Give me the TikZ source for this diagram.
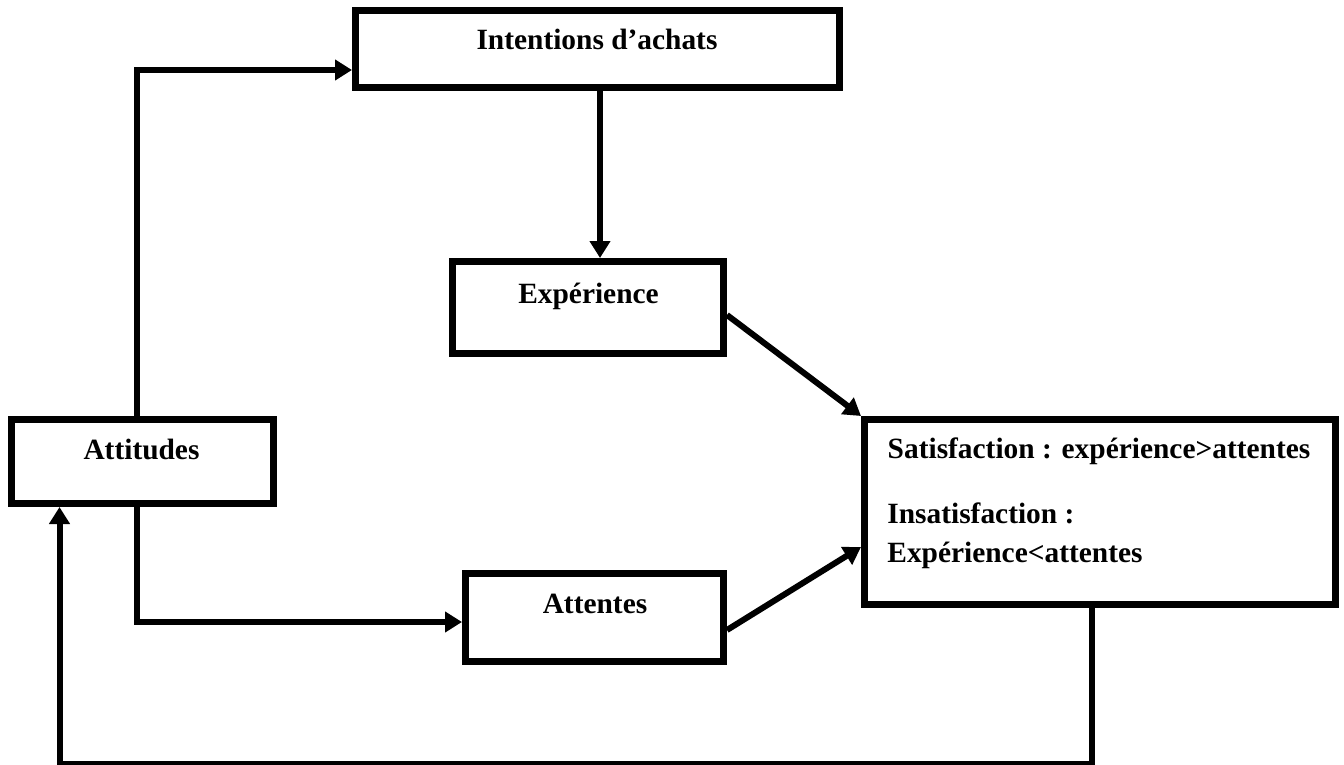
\documentclass[tikz,border=0pt]{standalone}
\usepackage{fontspec}
\setmainfont{Liberation Serif}
\usetikzlibrary{arrows.meta}
\begin{document}
\begin{tikzpicture}[x=0.5pt,y=-0.5pt,
  box/.style={draw=black,line width=3.5pt,fill=white,inner sep=0pt,rectangle},
  lbl/.style={inner sep=0pt,font=\fontsize{14.7pt}{17pt}\selectfont\bfseries},
  conn/.style={line width=3pt,-{Triangle[length=8.5pt,width=10pt]}},
  plain/.style={line width=3pt}]
\useasboundingbox (0,0) rectangle (1344,765);

% boxes
\node[box,minimum width=242pt,minimum height=38.5pt] (intent) at (597.5,49) {};
\node[box,minimum width=135.5pt,minimum height=46pt] (exper) at (588,307.5) {};
\node[box,minimum width=131pt,minimum height=42pt] (attit) at (142.5,461.5) {};
\node[box,minimum width=129pt,minimum height=44pt] (atten) at (594.5,617.5) {};
\node[box,minimum width=235.5pt,minimum height=92.5pt] (satis) at (1100,512) {};

% labels
\node[lbl,anchor=base] (tintent) at (597,50) {Intentions d’achats};
\node[lbl,anchor=base] (texper) at (588.5,303) {Expérience};
\node[lbl,anchor=base] (tattit) at (141.5,459) {Attitudes};
\node[lbl,anchor=base] (tatten) at (595,613) {Attentes};
\node[lbl,anchor=base] (tsat) at (1099,458) {Satisfaction : expérience>attentes};
\node[lbl,anchor=base west] (tins) at (887,523) {Insatisfaction :};
\node[lbl,anchor=base west] (tinsb) at (887,562) {Expérience<attentes};

% connectors
\coordinate (bl) at (59.5,764);
\coordinate (br) at (1091.5,764);
\draw[conn] (attit.north -| 137,0) |- (intent.west |- 0,70);
\draw[conn] (intent.south -| 600,0) -- (exper.north -| 600,0);
\draw[conn] (exper.east |- 0,315) -- (satis.north west);
\draw[conn] (atten.east |- 0,630) -- (satis.west |- 0,547);
\draw[conn] (attit.south -| 137,0) |- (atten.west |- 0,622);
\draw[conn] (satis.south -| br) -- (br) -- (bl) -- (attit.south -| bl);
\end{tikzpicture}
\end{document}
